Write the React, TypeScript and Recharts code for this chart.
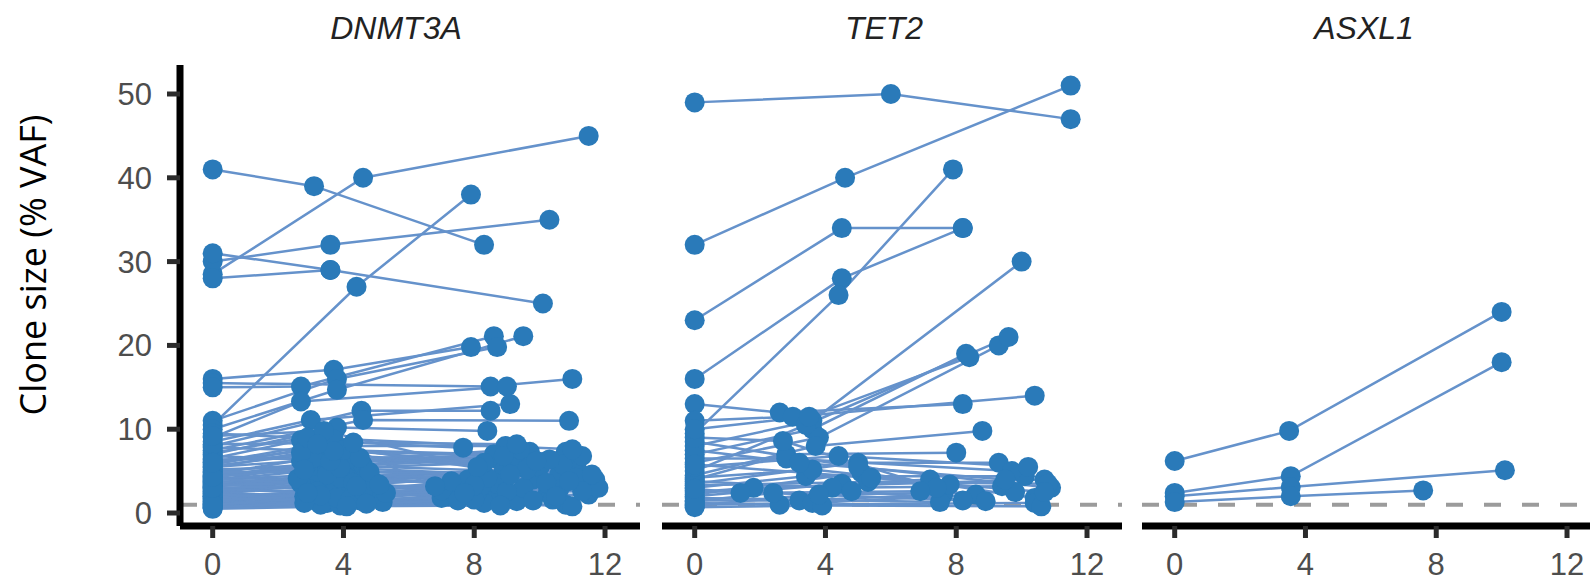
import { ReferenceLine, Scatter, ScatterChart, XAxis, YAxis } from "recharts";

type Pt = [number, number];

// years since first sample, VAF %
const geneNames = ["DNMT3A", "TET2", "ASXL1"];
const xTicks = [0, 4, 8, 12];
const yTicks = [0, 10, 20, 30, 40, 50];
const detectionLimit = 1;

const dnmt3aClones: Pt[][] = [
  [[0, 41], [3.1, 39], [8.3, 32]],
  [[0, 28.5], [4.6, 40], [11.5, 45]],
  [[0, 30], [3.6, 32], [10.3, 35]],
  [[0, 31], [3.6, 29], [10.1, 25]],
  [[0, 28], [3.6, 29]],
  [[0, 10.5], [4.4, 27], [7.9, 38]],
  [[0, 16], [3.7, 17.1], [7.9, 19.8]],
  [[0, 15.5], [8.5, 15.1], [11, 16]],
  [[0, 15], [2.7, 15.1], [8.6, 21.1]],
  [[0, 11], [3.8, 16], [8.7, 19.8]],
  [[0, 10], [3.8, 14.7], [9.5, 21.1]],
  [[0, 9], [2.7, 13.3], [9, 15.1]],
  [[0, 8.5], [3, 11.1], [9.1, 13]],
  [[0, 8], [4.55, 12.2], [8.5, 12.2]],
  [[0, 7.5], [4.6, 11.1], [10.9, 11]],
  [[0, 7], [3.8, 10.2], [8.4, 9.8]],
  [[0, 6.5], [2.7, 8.7], [7.66, 7.8]],
  [[0, 6], [3.8, 8], [8.95, 8]],
  [[0, 5.5], [2.7, 6.2], [8.8, 6.2]],
  [[0, 5], [3.8, 6], [9.7, 7.3]],
  [[0, 4.5], [3.2, 5.5], [10.8, 7.3]],
  [[0, 4], [3, 4.5], [11.4, 3.6]],
  [[0, 3.5], [3.4, 3.8], [11.2, 4.9]],
  [[0, 3], [3.6, 3], [11, 5.3]],
  [[0, 2.5], [2.8, 2], [10.25, 2.4]],
  [[0, 2], [3.7, 2.5], [8.5, 2]],
  [[0, 1.5], [3.5, 1.2], [8.3, 1.2]],
  [[0, 1], [3.9, 0.9], [10.8, 1]],
  [[0, 0.8], [4.5, 1.5], [9.3, 1.4]],
  [[0, 1.8], [4.8, 3], [7.2, 2]],
  [[0, 2.2], [5, 2], [7.5, 3]],
  [[0, 3.2], [4.4, 5], [9.8, 4]],
  [[0, 3.8], [2.9, 5.8], [8.9, 5]],
  [[0, 4.2], [4.2, 4], [10, 5.5]],
  [[0, 2.8], [3.1, 3.3], [7.8, 4]],
  [[0, 1.2], [2.9, 1.5], [8.1, 2.5]],
  [[0, 5.2], [4.6, 5.7], [9.2, 6.5]],
  [[0, 0.6], [3.3, 1], [11.6, 3.5]],
  [[0, 1.6], [4, 2.2], [9.5, 3]],
  [[0, 2.6], [3.9, 4.2], [8.7, 3.5]],
  [[0, 3.4], [4.7, 4.4], [11.7, 4]],
  [[0, 4.8], [3.5, 5], [10.6, 4.6]],
  [[0, 1.4], [5.2, 1.3], [7, 1.8]],
  [[0, 2.4], [4.3, 3.6], [10.4, 1.6]],
  [[0, 0.9], [3.8, 1.8], [11, 0.8]],
  [[0, 3.6], [3, 2.8], [8.2, 3.2]],
  [[0, 6.2], [3.3, 7], [9.4, 5.8]],
  [[0, 2], [7.5, 1.5]],
  [[0, 1.1], [8, 1.6]],
  [[0, 4.4], [4.1, 6.4], [11.3, 6.8]],
  [[0, 5.8], [2.8, 7.6], [8.6, 7]],
  [[0, 9.5], [3.7, 8.8], [7, 2.7]],
  [[0, 0.7], [2.8, 1.2], [9.8, 1.5]],
  [[0, 1.3], [3.2, 2.6], [10.6, 2.8]],
  [[0, 1.7], [4.2, 1.6], [11.5, 2.2]],
  [[0, 2.1], [2.7, 3.5], [9, 2.6]],
  [[0, 2.7], [4.6, 2.6], [11.8, 3]],
  [[0, 3.1], [3.5, 4.6], [8.4, 4.2]],
  [[0, 3.3], [4.9, 3.8], [10.2, 3.6]],
  [[0, 3.7], [2.6, 4.1], [9.6, 5.2]],
  [[0, 3.9], [3.9, 5.4], [11.1, 4.2]],
  [[0, 4.1], [4.4, 3.2], [8, 3.3]],
  [[0, 4.6], [3.1, 6.6], [10.7, 5.8]],
  [[0, 4.9], [4.8, 4.9], [9.1, 4.6]],
  [[0, 5.4], [2.7, 7.2], [11.6, 4.6]],
  [[0, 5.6], [4, 7.5], [8.3, 6]],
  [[0, 6.4], [4.5, 6.6], [10.3, 6.4]],
  [[0, 6.8], [3.6, 6.2], [9.4, 7.6]],
  [[0, 7.2], [2.9, 9], [11, 7.6]],
  [[0, 7.8], [3.7, 7.4], [8.9, 6.8]],
  [[0, 8.2], [4.3, 8.4], [9.3, 8.2]],
  [[0, 9.2], [3.4, 9.8], [8.1, 5.5]],
  [[0, 0.5], [4.1, 0.8], [8.8, 0.9]],
  [[0, 1.9], [3.3, 2.1], [7.3, 3.8]],
  [[0, 2.3], [4.7, 1.1], [10.5, 2]],
  [[0, 2.9], [2.9, 2.4], [11.3, 2.6]],
  [[0, 1], [5.3, 2.4], [6.8, 3.2]],
  [[0, 3], [5.1, 3.4], [7.7, 2.4]],
  [[0, 4.3], [2.8, 5.2], [9.9, 6.2]],
  [[0, 6], [3.2, 8.2], [10.9, 3.8]],
];

const tet2Clones: Pt[][] = [
  [[0, 49], [6, 50], [11.5, 47]],
  [[0, 32], [4.6, 40], [11.5, 51]],
  [[0, 23], [4.5, 34], [8.2, 34]],
  [[0, 16], [4.5, 28], [8.2, 34]],
  [[0, 9.5], [4.4, 26], [7.9, 41]],
  [[0, 8], [3.6, 11], [10, 30]],
  [[0, 13], [2.6, 12], [8.2, 13]],
  [[0, 11], [3, 11.5], [10.4, 14]],
  [[0, 7], [3.6, 10], [8.3, 19]],
  [[0, 6], [3.8, 9], [9.3, 20]],
  [[0, 5], [3.4, 10.5], [9.6, 21]],
  [[0, 4.5], [3.7, 8], [8.8, 9.8]],
  [[0, 4], [2.8, 7], [8, 7.2]],
  [[0, 3.5], [5, 6], [9.3, 6]],
  [[0, 3], [3.4, 4.4], [10.1, 4.4]],
  [[0, 2.5], [1.8, 3], [10.7, 4]],
  [[0, 2], [4.5, 3.5], [7.2, 4]],
  [[0, 1.5], [3.2, 1.5], [7.6, 2.2]],
  [[0, 1], [3.6, 1.2], [8.6, 2.2]],
  [[0, 2.2], [5.1, 4.8], [10.4, 1.8]],
  [[0, 3.8], [4.2, 3], [9.4, 3.2]],
  [[0, 1.2], [2.6, 1], [10.4, 1.2]],
  [[0, 6.5], [2.8, 6.5], [9.7, 5]],
  [[0, 8.5], [5, 5.5], [10.9, 3]],
  [[0, 1.8], [7.5, 1.3]],
  [[0, 0.7], [3.9, 0.9], [10.6, 0.8]],
  [[0, 1.4], [2.4, 2.4], [8.2, 1.5]],
  [[0, 2.7], [3.8, 2.2], [9.8, 2.5]],
  [[0, 3.3], [5.3, 3.7], [10.8, 3.5]],
  [[0, 4.2], [3.6, 5.2], [7.8, 3.4]],
  [[0, 5.5], [4.4, 6.8], [10.2, 5.5]],
  [[0, 7.5], [3.2, 6], [9.5, 4]],
  [[0, 9], [2.7, 8.6], [7.4, 3]],
  [[0, 0.9], [4.8, 2.6], [8.9, 1.4]],
  [[0, 5.8], [5.4, 4.2], [10.7, 2.5]],
  [[0, 2.9], [1.4, 2.4], [6.9, 2.6]],
  [[0, 10], [3.5, 11.5], [8.4, 18.6]],
];

const asxl1Clones: Pt[][] = [
  [[0, 6.2], [3.5, 9.8], [10, 24]],
  [[0, 2.4], [3.55, 4.4], [10, 18]],
  [[0, 2], [3.55, 3.1], [10.1, 5.1]],
  [[0, 1.3], [3.55, 2], [7.6, 2.7]],
];

const panelClones = [dnmt3aClones, tet2Clones, asxl1Clones];
const panelLefts = [180, 662, 1142];
const titleCenters = [396, 884, 1364];

const plotWidth = 460;
const plotTop = 65;
const xDomain: [number, number] = [-1, 13.07];
const yDomain: [number, number] = [-1.55, 53.46];

const dotColor = "#2a7ab9";
const lineColor = "#6592cb";
const tickFont = { fill: "#4d4d4d", fontSize: 31, fontFamily: "Liberation Sans, Arial, sans-serif" };

const toRows = (clone: Pt[]) => clone.map(([t, vaf]) => ({ t, vaf }));

const Dot = (props: any) => <circle cx={props.cx} cy={props.cy} r={10} fill={dotColor} />;
const NoDot = () => <g />;

function Panel({ clones, left, withY }: { clones: Pt[][]; left: number; withY: boolean }) {
  const marginLeft = withY ? 120 : 10;
  const yWidth = withY ? 60 : 0;
  const width = marginLeft + yWidth + plotWidth + 10;
  const allPoints = clones.flatMap(toRows);

  return (
    <div style={{ position: "absolute", left: left - marginLeft - yWidth, top: 0 }}>
      <ScatterChart
        width={width}
        height={582}
        margin={{ top: plotTop, right: 10, bottom: 0, left: marginLeft }}
      >
        <XAxis
          type="number"
          dataKey="t"
          domain={xDomain}
          ticks={xTicks}
          height={56}
          tickSize={12}
          tickMargin={15}
          tick={tickFont}
          tickLine={{ stroke: "#2b2b2b", strokeWidth: 5 }}
          axisLine={{ stroke: "#000", strokeWidth: 7 }}
          allowDataOverflow
        />
        <YAxis
          type="number"
          dataKey="vaf"
          domain={yDomain}
          ticks={yTicks}
          width={yWidth}
          hide={!withY}
          tickSize={13}
          tickMargin={15}
          tick={tickFont}
          tickLine={{ stroke: "#2b2b2b", strokeWidth: 5 }}
          axisLine={{ stroke: "#000", strokeWidth: 7 }}
          allowDataOverflow
        />
        {clones.map((clone, i) => (
          <Scatter
            key={i}
            data={toRows(clone)}
            line={{ stroke: lineColor, strokeWidth: 2.5 }}
            shape={NoDot}
            isAnimationActive={false}
          />
        ))}
        <Scatter data={allPoints} shape={Dot} isAnimationActive={false} />
        <ReferenceLine
          y={detectionLimit}
          stroke="#9b9b9b"
          strokeWidth={4}
          strokeDasharray="17 21"
        />
      </ScatterChart>
    </div>
  );
}

export default function App() {
  return (
    <div
      style={{
        position: "absolute",
        left: 0,
        top: 0,
        width: 1590,
        height: 582,
        overflow: "hidden",
        background: "#fff",
      }}
    >
      {panelClones.map((clones, i) => (
        <Panel key={geneNames[i]} clones={clones} left={panelLefts[i]} withY={i === 0} />
      ))}
      <svg
        width={1590}
        height={582}
        style={{ position: "absolute", left: 0, top: 0, pointerEvents: "none" }}
      >
        {geneNames.map((name, i) => (
          <text
            key={name}
            x={titleCenters[i]}
            y={39}
            textAnchor="middle"
            fontSize={32}
            fontStyle="italic"
            fontFamily="Liberation Sans, Arial, sans-serif"
            fill="#222"
          >
            {name}
          </text>
        ))}
        <text
          transform="translate(46,265) rotate(-90)"
          textAnchor="middle"
          fontSize={36}
          fontFamily="Open Sans, sans-serif"
          fill="#000"
        >
          Clone size (% VAF)
        </text>
      </svg>
    </div>
  );
}
